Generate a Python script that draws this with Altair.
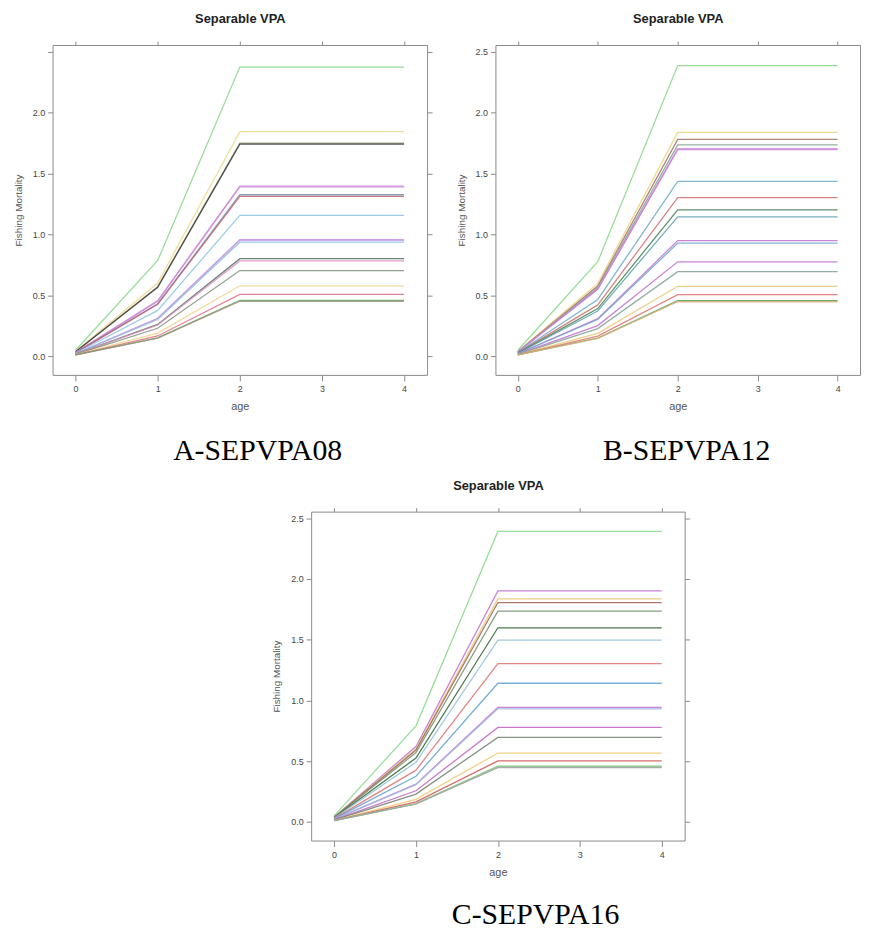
import altair as alt
import pandas as pd

# ---------------- data ----------------
ages = [0, 1, 2, 3, 4]
x_ticks = [0, 1, 2, 3, 4]
y_ticks = [0.0, 0.5, 1.0, 1.5, 2.0, 2.5]
panel_title = "Separable VPA"
x_title = "age"
y_title = "Fishing Mortality"

# Panel A  (SEPVPA08)
a_caption = "A-SEPVPA08"
a_age0 = [0.048, 0.037, 0.035, 0.035, 0.028, 0.028, 0.027, 0.026, 0.023, 0.019,
          0.019, 0.019, 0.016, 0.016, 0.014, 0.012, 0.010, 0.009, 0.009]
a_age1 = [0.785, 0.600, 0.570, 0.565, 0.455, 0.450, 0.430, 0.425, 0.375, 0.310,
          0.308, 0.300, 0.260, 0.255, 0.228, 0.188, 0.165, 0.150, 0.147]
a_age2 = [2.374, 1.843, 1.748, 1.740, 1.396, 1.390, 1.325, 1.312, 1.155, 0.957,
          0.950, 0.935, 0.800, 0.781, 0.702, 0.577, 0.507, 0.458, 0.450]
a_age3 = [2.374, 1.843, 1.748, 1.740, 1.396, 1.390, 1.325, 1.312, 1.155, 0.957,
          0.950, 0.935, 0.800, 0.781, 0.702, 0.577, 0.507, 0.458, 0.450]
a_age4 = [2.374, 1.843, 1.748, 1.740, 1.396, 1.390, 1.325, 1.312, 1.155, 0.957,
          0.950, 0.935, 0.800, 0.781, 0.702, 0.577, 0.507, 0.458, 0.450]
a_colors = ["#86d886", "#f0d88a", "#9c9c80", "#3a3a3a", "#d68ee0", "#c88ad8",
            "#6e90b0", "#c4606e", "#8cc6e0", "#d08ee0", "#c8a0e8", "#8cc0e0",
            "#4e6e5e", "#e08ec0", "#7e907e", "#f0d48a", "#e06e7e", "#5cae5c",
            "#a08e7e"]

# Panel B  (SEPVPA12)
b_caption = "B-SEPVPA12"
b_age0 = [0.048, 0.037, 0.036, 0.035, 0.034, 0.034, 0.029, 0.026, 0.024, 0.023,
          0.019, 0.019, 0.016, 0.014, 0.012, 0.010, 0.009, 0.009]
b_age1 = [0.775, 0.595, 0.575, 0.560, 0.550, 0.548, 0.465, 0.420, 0.390, 0.370,
          0.307, 0.300, 0.250, 0.225, 0.186, 0.164, 0.147, 0.145]
b_age2 = [2.386, 1.837, 1.780, 1.734, 1.704, 1.695, 1.435, 1.302, 1.201, 1.144,
          0.948, 0.927, 0.774, 0.693, 0.573, 0.505, 0.454, 0.446]
b_age3 = [2.386, 1.837, 1.780, 1.734, 1.704, 1.695, 1.435, 1.302, 1.201, 1.144,
          0.948, 0.927, 0.774, 0.693, 0.573, 0.505, 0.454, 0.446]
b_age4 = [2.386, 1.837, 1.780, 1.734, 1.704, 1.695, 1.435, 1.302, 1.201, 1.144,
          0.948, 0.927, 0.774, 0.693, 0.573, 0.505, 0.454, 0.446]
b_colors = ["#86d886", "#ecd27a", "#a07060", "#80a090", "#d08ee0", "#c880d8",
            "#6aaac8", "#d07070", "#408050", "#60a0b0", "#c070d0", "#70a8d0",
            "#c070d0", "#80a090", "#e8c870", "#e07070", "#50a050", "#e0b080"]

# Panel C  (SEPVPA16)
c_caption = "C-SEPVPA16"
c_age0 = [0.048, 0.038, 0.037, 0.036, 0.035, 0.032, 0.030, 0.026, 0.023, 0.019,
          0.019, 0.016, 0.014, 0.011, 0.010, 0.009, 0.009, 0.009]
c_age1 = [0.790, 0.620, 0.600, 0.590, 0.570, 0.525, 0.490, 0.425, 0.375, 0.310,
          0.305, 0.255, 0.228, 0.185, 0.164, 0.150, 0.148, 0.146]
c_age2 = [2.392, 1.902, 1.836, 1.806, 1.735, 1.598, 1.497, 1.303, 1.141, 0.941,
          0.930, 0.777, 0.695, 0.566, 0.501, 0.457, 0.452, 0.446]
c_age3 = [2.392, 1.902, 1.836, 1.806, 1.735, 1.598, 1.497, 1.303, 1.141, 0.941,
          0.930, 0.777, 0.695, 0.566, 0.501, 0.457, 0.452, 0.446]
c_age4 = [2.392, 1.902, 1.836, 1.806, 1.735, 1.598, 1.497, 1.303, 1.141, 0.941,
          0.930, 0.777, 0.695, 0.566, 0.501, 0.457, 0.452, 0.446]
c_colors = ["#86d886", "#c070d0", "#e8c870", "#a06050", "#709070", "#306030",
            "#90c0d8", "#e07070", "#60a0d0", "#c070d0", "#a0c0e0", "#c060c0",
            "#708070", "#f0c870", "#d05050", "#70c070", "#9ccc9c", "#a0a0a0"]


def make_df(cols, prefix):
    rows = []
    n = len(cols[0])
    for i in range(n):
        for a, col in zip(ages, cols):
            rows.append({"series": f"{prefix}{i:02d}", "age": a, "F": col[i]})
    return pd.DataFrame(rows)


FONT = "Liberation Sans"


def panel(df, prefix, colors, caption, width, height, top_pad, cap_dx, cap_offset,
          right_ticks=True, hide_top_label=False):
    domain = [f"{prefix}{i:02d}" for i in range(len(colors))]
    xscale = alt.Scale(domain=[-0.28, 4.28], nice=False, zero=False)
    yscale = alt.Scale(domain=[-0.155, 2.555], nice=False, zero=False)
    if hide_top_label:
        lab = "datum.value > 2.4 ? '' : format(datum.value, '.1f')"
    else:
        lab = "format(datum.value, '.1f')"
    base = alt.Chart(df)
    lines = base.mark_line(strokeWidth=1.3, opacity=0.85).encode(
        x=alt.X("age:Q", scale=xscale,
                axis=alt.Axis(orient="bottom", values=x_ticks, format="d",
                              title=x_title, tickSize=6, labelPadding=4,
                              titlePadding=7, titleFontSize=11)),
        y=alt.Y("F:Q", scale=yscale,
                axis=alt.Axis(orient="left", values=y_ticks, labelExpr=lab,
                              title=y_title, tickSize=5, labelPadding=3,
                              titlePadding=9)),
        color=alt.Color("series:N", scale=alt.Scale(domain=domain, range=colors),
                        legend=None),
    )
    if right_ticks:
        yenc = alt.Y("F:Q", scale=yscale,
                     axis=alt.Axis(orient="right", values=y_ticks, labels=False,
                                   title=None, tickSize=5))
    else:
        yenc = alt.Y("F:Q", scale=yscale, axis=None)
    frame = base.mark_line(opacity=0).encode(
        x=alt.X("age:Q", scale=xscale,
                axis=alt.Axis(orient="top", values=x_ticks, labels=False,
                              tickSize=4, title=panel_title,
                              titleFontWeight="bold", titleFontSize=13,
                              titleColor="#222", titlePadding=top_pad)),
        y=yenc,
        detail="series:N",
    )
    return alt.layer(lines, frame).resolve_axis(
        x="independent", y="independent"
    ).properties(
        width=width, height=height,
        title=alt.TitleParams(text=caption, orient="bottom", anchor="middle",
                              frame="group", dx=cap_dx, offset=cap_offset,
                              font="Liberation Serif", fontSize=30,
                              fontWeight="normal", color="#000"),
    )


dfA = make_df([a_age0, a_age1, a_age2, a_age3, a_age4], "a")
dfB = make_df([b_age0, b_age1, b_age2, b_age3, b_age4], "b")
dfC = make_df([c_age0, c_age1, c_age2, c_age3, c_age4], "c")

A = panel(dfA, "a", a_colors, a_caption, 378, 333, 15, 18, 25, True, True)
B = panel(dfB, "b", b_colors, b_caption, 368, 333, 15, 9, 25, False, False)
C = panel(dfC, "c", c_colors, c_caption, 377, 332, 15, 38, 23, True, False)

spacer = alt.Chart(pd.DataFrame({"v": [0]})).mark_point(opacity=0).properties(
    width=219, height=20, view=alt.ViewBackground(stroke="transparent")
)

chart = alt.vconcat(
    alt.hconcat(A, B, spacing=22).resolve_scale(color="independent"),
    alt.hconcat(spacer, C, spacing=0).resolve_scale(color="independent"),
    spacing=12,
).resolve_scale(
    color="independent"
).properties(
    padding={"left": 4, "top": 0, "right": 0, "bottom": 0},
    background="white",
).configure_view(
    stroke="#8a8a8a", strokeWidth=1
).configure_axis(
    grid=False, domain=False, tickColor="#8a8a8a", tickWidth=1,
    labelColor="#444", labelFont=FONT, labelFontSize=9,
    titleFont=FONT, titleFontSize=10, titleColor="#555",
    titleFontWeight="normal",
)

chart.save("out.html", embed_options={"renderer": "svg", "actions": False})
